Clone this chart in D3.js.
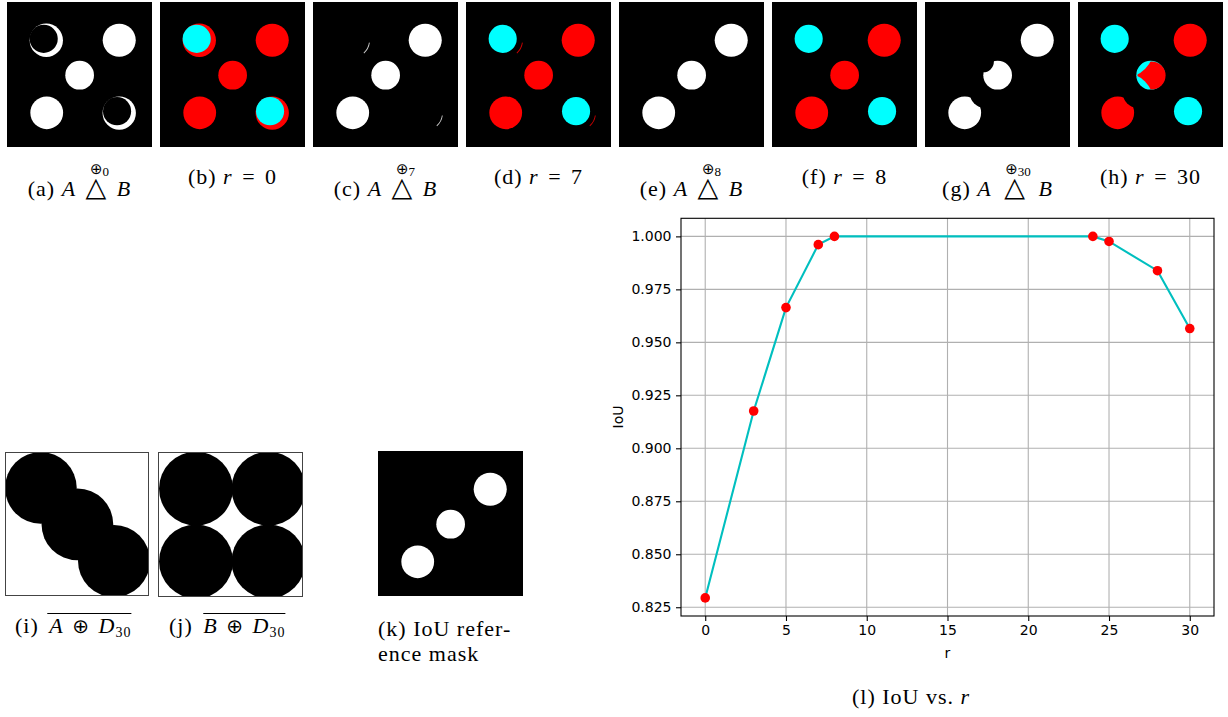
<!DOCTYPE html>
<html>
<head>
<meta charset="utf-8">
<script src="https://cdn.jsdelivr.net/npm/d3@7"></script>
<style>
  body { margin: 0; background: #fff; }
  svg { display: block; }
  .cap { font-family: "Liberation Serif", "Times New Roman", serif; font-size: 22px; fill: #000; letter-spacing: 1px; }
  .tick text, .lbl { font-family: "DejaVu Sans", sans-serif; font-size: 14px; fill: #000; }
</style>
</head>
<body>
<svg id="fig" width="1228" height="717"></svg>
<script>
// IoU vs r curve
const rValues = [0, 3, 5, 7, 8, 24, 25, 28, 30];
const iouValues = [0.8294, 0.9176, 0.9664, 0.9961, 1.0, 1.0, 0.9976, 0.9838, 0.9565];
const xTicks = [0, 5, 10, 15, 20, 25, 30];
const yTicks = [0.825, 0.85, 0.875, 0.9, 0.925, 0.95, 0.975, 1.0];

// mask discs in image units (0..1): [cx, cy, radius]
const discsA = [[0.271, 0.264, 0.115], [0.774, 0.264, 0.114], [0.501, 0.505, 0.099],
                [0.274, 0.764, 0.113], [0.774, 0.766, 0.115]];   // ul, ur, centre, ll, lr
const discsB = [[0.253, 0.254, 0.097], [0.759, 0.753, 0.097]];   // ul, lr
const sliverCentres = [[0.271, 0.264], [0.774, 0.766]];
const sliverRadii = [0.116, 0.122];
const sliverAngles = [98, 138];
const centreR30 = [0.507, 0.507, 0.097];
const cutsG30 = { centre: [[0.40, 0.41, 0.075]], ll: [[0.41, 0.63, 0.1]] };
const cutsH30 = { centre: [[0.31, 0.31, 0.215], [0.31, 0.70, 0.215]], ll: [[0.41, 0.63, 0.1]] };
const dilatedA = [[0.249, 0.249, 0.249], [0.503, 0.503, 0.249], [0.757, 0.757, 0.25]];
const dilatedB = [[0.262, 0.253, 0.255], [0.762, 0.253, 0.255], [0.262, 0.755, 0.255], [0.762, 0.755, 0.255]];

const topLetters = ["a", "b", "c", "d", "e", "f", "g", "h"];
const radiusLabels = ["0", "0", "7", "7", "8", "8", "30", "30"];

const RED = "#ff0000", CYAN = "#00ffff", WHITE = "#ffffff", BLACK = "#000000";
const disc = (c, fill, cuts) => ({ c, fill, cuts });
const slivers = fill => sliverCentres.map(c => ({ arc: c, fill }));

const topShapes = [
    [...discsA.map(c => disc(c, WHITE)), ...discsB.map(c => disc(c, BLACK))],
    [...discsA.map(c => disc(c, RED)), ...discsB.map(c => disc(c, CYAN))],
    [...discsA.slice(1, 4).map(c => disc(c, WHITE)), ...slivers(WHITE)],
    [...discsB.map(c => disc(c, CYAN)), ...discsA.slice(1, 4).map(c => disc(c, RED)), ...slivers(RED)],
    [...discsA.slice(1, 4).map(c => disc(c, WHITE))],
    [...discsB.map(c => disc(c, CYAN)), ...discsA.slice(1, 4).map(c => disc(c, RED))],
    [disc(discsA[1], WHITE), disc(discsA[2], WHITE, cutsG30.centre), disc(discsA[3], WHITE, cutsG30.ll)],
    [...discsB.map(c => disc(c, CYAN)), disc(discsA[1], RED), disc(discsA[2], CYAN),
     disc(centreR30, RED, cutsH30.centre), disc(discsA[3], RED, cutsH30.ll)]
];

const svg = d3.select("#fig");
const defs = svg.append("defs");
svg.append("rect").attr("width", 1228).attr("height", 717).attr("fill", "#fff");

// Draw one mask image
function drawMask(id, x0, y0, size, bg, shapes, border) {
    const s = d3.scaleLinear().domain([0, 1]).range([0, size]);
    defs.append("clipPath").attr("id", "clip-" + id)
        .append("rect").attr("width", size).attr("height", size);
    const g = svg.append("g").attr("transform", `translate(${x0},${y0})`);
    g.append("rect").attr("width", size).attr("height", size).attr("fill", bg);
    const inner = g.append("g").attr("clip-path", `url(#clip-${id})`);

    shapes.forEach((sh, i) => {
        if (sh.arc) {
            const arc = d3.arc()
                .innerRadius(s(sliverRadii[0])).outerRadius(s(sliverRadii[1]))
                .startAngle(sliverAngles[0] * Math.PI / 180).endAngle(sliverAngles[1] * Math.PI / 180);
            inner.append("path")
                .attr("transform", `translate(${s(sh.arc[0])},${s(sh.arc[1])})`)
                .attr("d", arc())
                .attr("fill", sh.fill)
                .attr("opacity", 0.8);
            return;
        }
        const c = inner.append("circle")
            .attr("cx", s(sh.c[0])).attr("cy", s(sh.c[1])).attr("r", s(sh.c[2]))
            .attr("fill", sh.fill);
        if (sh.cuts) {
            const m = defs.append("mask").attr("id", `cut-${id}-${i}`)
                .attr("maskUnits", "userSpaceOnUse")
                .attr("x", 0).attr("y", 0).attr("width", size).attr("height", size);
            m.append("rect").attr("width", size).attr("height", size).attr("fill", "#fff");
            sh.cuts.forEach(k => m.append("circle")
                .attr("cx", s(k[0])).attr("cy", s(k[1])).attr("r", s(k[2])).attr("fill", "#000"));
            c.attr("mask", `url(#cut-${id}-${i})`);
        }
    });

    if (border) {
        g.append("rect").attr("x", 0.5).attr("y", 0.5)
            .attr("width", size - 1).attr("height", size - 1)
            .attr("fill", "none").attr("stroke", "#444").attr("stroke-width", 1);
    }
}

// Caption made of parts [text, style, dx]
function caption(x, y, anchor, parts) {
    const t = svg.append("text").attr("class", "cap")
        .attr("x", x).attr("y", y).attr("text-anchor", anchor);
    parts.forEach(([txt, st, dx]) => {
        const sp = t.append("tspan").text(txt);
        if (st === "i") sp.attr("font-style", "italic");
        if (st === "tri") sp.attr("class", "tri").attr("font-family", "DejaVu Sans").attr("font-size", 27);
        if (st === "op") sp.attr("font-family", "DejaVu Sans").attr("font-size", 20);
        if (st === "sub") sp.attr("font-size", 14).attr("dy", 4);
        if (dx) sp.attr("dx", dx);
    });
    return t;
}

// Top row
const topX = [7, 160, 313, 466, 619, 772, 925, 1078];
const topY = 2, topSize = 145;

topShapes.forEach((shapes, i) => {
    drawMask("top" + i, topX[i], topY, topSize, BLACK, shapes, false);
    const cx = topX[i] + topSize / 2;
    if (i % 2 === 0) {
        const gap = radiusLabels[i].length > 1 ? 6 : 3;
        const t = caption(cx, 196, "middle", [[`(${topLetters[i]}) `], ["A", "i"], [" "],
            ["△", "tri", gap], [" "], ["B", "i", gap]]);
        const bb = t.select(".tri").node().getBBox();
        // the ⊕ with its radius sits above the triangle, in the same text element
        t.append("tspan").text("⊕")
            .attr("x", bb.x + bb.width / 2 + 3).attr("y", 174)
            .attr("font-family", "DejaVu Sans").attr("font-size", 15)
            .style("letter-spacing", "0px");
        t.append("tspan").text(radiusLabels[i])
            .attr("font-size", 13).attr("dy", 2)
            .style("letter-spacing", "0px");
    } else {
        caption(cx, 184, "middle", [[`(${topLetters[i]}) `], ["r", "i"], [" = ", null, 3], [radiusLabels[i], null, 3]]);
    }
});

// Bottom-left images
drawMask("i", 5, 452, 144, WHITE, dilatedA.map(c => disc(c, BLACK)), true);
drawMask("j", 158, 452, 145, WHITE, dilatedB.map(c => disc(c, BLACK)), true);
drawMask("k", 378, 451, 145, BLACK, discsA.slice(1, 4).map(c => disc(c, WHITE)), false);

[["i", "A", 15], ["j", "B", 169]].forEach(([letter, set, x0]) => {
    const t = caption(x0, 633, "start", [[`(${letter}) `], [set, "i", 4], [" "], ["⊕", "op", 2], [" "], ["D", "i", 2], ["30", "sub"]]);
    const spans = t.selectAll("tspan").nodes();
    const a = spans[1].getBBox(), b = spans[6].getBBox();
    svg.append("line")
        .attr("x1", a.x).attr("x2", b.x + b.width)
        .attr("y1", 613.5).attr("y2", 613.5)
        .attr("stroke", "#000").attr("stroke-width", 1);
});

caption(378, 636, "start", [["(k) IoU refer-"]]);
caption(378, 661, "start", [["ence mask"]]);

// IoU plot
const xPad = (d3.max(rValues) - d3.min(rValues)) * 0.05;
const yPad = (d3.max(iouValues) - d3.min(iouValues)) * 0.05;
const plot = { left: 681, right: 1214, top: 218.3, bottom: 616 };

const x = d3.scaleLinear()
    .domain([d3.min(rValues) - xPad, d3.max(rValues) + xPad])
    .range([plot.left, plot.right]);
const y = d3.scaleLinear()
    .domain([d3.min(iouValues) - yPad, d3.max(iouValues) + yPad])
    .range([plot.bottom, plot.top]);

const grid = svg.append("g").attr("stroke", "#b0b0b0").attr("stroke-width", 1.1);
grid.selectAll(".gx").data(xTicks).enter().append("line")
    .attr("x1", d => x(d)).attr("x2", d => x(d))
    .attr("y1", plot.top).attr("y2", plot.bottom);
grid.selectAll(".gy").data(yTicks).enter().append("line")
    .attr("y1", d => y(d)).attr("y2", d => y(d))
    .attr("x1", plot.left).attr("x2", plot.right);

svg.append("g")
    .attr("transform", `translate(0,${plot.bottom})`)
    .call(d3.axisBottom(x).tickValues(xTicks).tickSize(5).tickPadding(4.5))
    .call(g => g.select(".domain").remove())
    .call(g => g.selectAll(".tick line").attr("stroke-width", 1.1));

svg.append("g")
    .attr("transform", `translate(${plot.left},0)`)
    .call(d3.axisLeft(y).tickValues(yTicks).tickFormat(d3.format(".3f")).tickSize(5).tickPadding(4.5))
    .call(g => g.select(".domain").remove())
    .call(g => g.selectAll(".tick line").attr("stroke-width", 1.1));

svg.selectAll(".tick text").attr("font-family", null).attr("font-size", null);

const pts = rValues.map((r, i) => [r, iouValues[i]]);
svg.append("path")
    .datum(pts)
    .attr("fill", "none")
    .attr("stroke", "#00bfbf")
    .attr("stroke-width", 2.1)
    .attr("d", d3.line().x(d => x(d[0])).y(d => y(d[1])));

svg.append("g").selectAll("circle").data(pts).enter().append("circle")
    .attr("cx", d => x(d[0])).attr("cy", d => y(d[1]))
    .attr("r", 4.8).attr("fill", RED);

svg.append("rect")
    .attr("x", plot.left).attr("y", plot.top)
    .attr("width", plot.right - plot.left).attr("height", plot.bottom - plot.top)
    .attr("fill", "none").attr("stroke", "#000").attr("stroke-width", 1.1);

svg.append("text").attr("class", "lbl")
    .attr("text-anchor", "middle")
    .attr("transform", "translate(623,417) rotate(-90)")
    .text("IoU");
svg.append("text").attr("class", "lbl")
    .attr("x", (plot.left + plot.right) / 2).attr("y", 658)
    .attr("text-anchor", "middle")
    .text("r");

caption(911, 704, "middle", [["(l) IoU vs. "], ["r", "i"]]);
</script>
</body>
</html>
